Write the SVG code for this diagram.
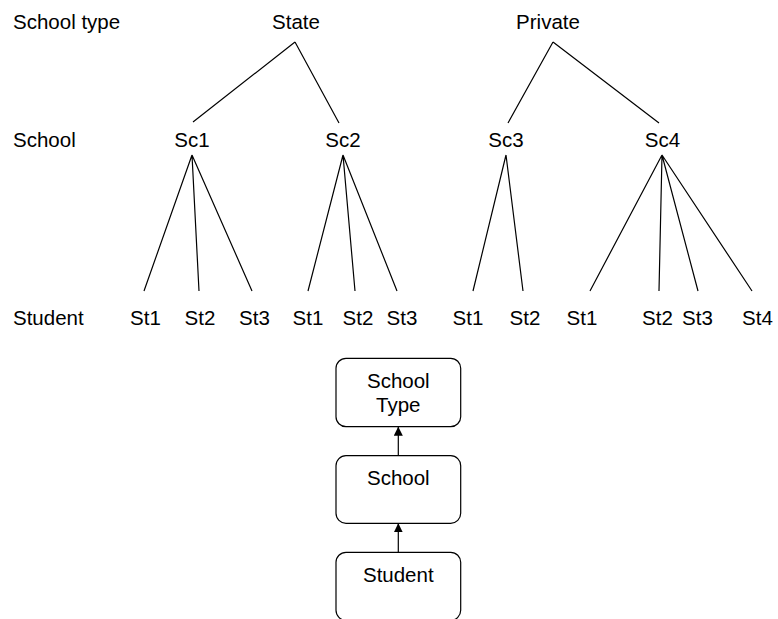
<svg xmlns="http://www.w3.org/2000/svg" width="778" height="619" viewBox="0 0 778 619">
<style>
text{font-family:"Liberation Sans",Arial,sans-serif;font-size:20.5px;fill:#000}
.m{text-anchor:middle}
.e{stroke:#000;stroke-width:1.2;fill:none}
.box{fill:#fff;stroke:#000;stroke-width:1.2}
</style>
<defs>
<marker id="ah" viewBox="0 0 10 10" refX="10" refY="5" markerWidth="9" markerHeight="9" markerUnits="userSpaceOnUse" orient="auto">
<path d="M0,0 L10,5 L0,10 Z" fill="#000"/>
</marker>
</defs>
<rect width="778" height="619" fill="#fff"/>
<g id="levels">
<text x="13" y="29">School type</text>
<text x="13" y="147">School</text>
<text x="13" y="325">Student</text>
</g>
<g id="connectors">
<path class="e" d="M295,42 L193,122 M295,42 L339,123"/>
<path class="e" d="M553,42 L508,123 M553,42 L659,123"/>
<path class="e" d="M192,155 L144,291 M192,155 L199,291 M192,155 L252,291"/>
<path class="e" d="M343,155 L308,291 M343,155 L355,291 M343,155 L397,291"/>
<path class="e" d="M506,155 L473,291 M506,155 L523,291"/>
<path class="e" d="M662,155 L590,291 M662,155 L659,291 M662,155 L698,291 M662,155 L752,291"/>
<line class="e" x1="398.3" y1="455.7" x2="398.3" y2="426.7" marker-end="url(#ah)"/>
<line class="e" x1="398.3" y1="552.3" x2="398.3" y2="523.3" marker-end="url(#ah)"/>
</g>
<g id="state"><text class="m" x="296" y="29">State</text></g>
<g id="private"><text class="m" x="548" y="29">Private</text></g>
<g id="sc1"><text class="m" x="192" y="147">Sc1</text></g>
<g id="sc2"><text class="m" x="343" y="147">Sc2</text></g>
<g id="sc3"><text class="m" x="506" y="147">Sc3</text></g>
<g id="sc4"><text class="m" x="662.5" y="147">Sc4</text></g>
<g id="sc1-st1"><text class="m" x="145.5" y="325">St1</text></g>
<g id="sc1-st2"><text class="m" x="200" y="325">St2</text></g>
<g id="sc1-st3"><text class="m" x="254.5" y="325">St3</text></g>
<g id="sc2-st1"><text class="m" x="308" y="325">St1</text></g>
<g id="sc2-st2"><text class="m" x="358" y="325">St2</text></g>
<g id="sc2-st3"><text class="m" x="402" y="325">St3</text></g>
<g id="sc3-st1"><text class="m" x="468" y="325">St1</text></g>
<g id="sc3-st2"><text class="m" x="525" y="325">St2</text></g>
<g id="sc4-st1"><text class="m" x="582" y="325">St1</text></g>
<g id="sc4-st2"><text class="m" x="657.5" y="325">St2</text></g>
<g id="sc4-st3"><text class="m" x="697.5" y="325">St3</text></g>
<g id="sc4-st4"><text class="m" x="757.5" y="325">St4</text></g>
<g id="box-schooltype">
<rect class="box" x="336" y="358.3" width="124.7" height="68.4" rx="10" ry="10"/>
<text class="m" x="398.3" y="388.3">School</text>
<text class="m" x="398.3" y="411.7">Type</text>
</g>
<g id="box-school">
<rect class="box" x="336" y="455.7" width="124.7" height="67.6" rx="10" ry="10"/>
<text class="m" x="398.3" y="485">School</text>
</g>
<g id="box-student">
<rect class="box" x="336" y="552.3" width="124.7" height="68" rx="10" ry="10"/>
<text class="m" x="398.3" y="581.7">Student</text>
</g>
</svg>
